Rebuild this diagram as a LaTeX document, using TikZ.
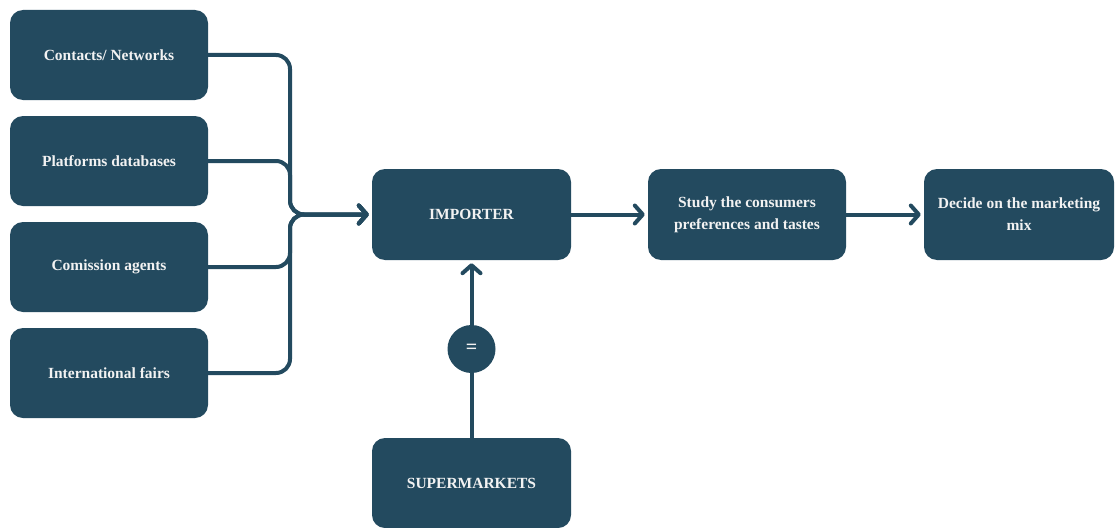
\documentclass[tikz,border=0pt]{standalone}
\usepackage{fontspec}
\setmainfont{Liberation Serif}
\usetikzlibrary{arrows.meta}
\definecolor{navy}{HTML}{234A5F}
\definecolor{paper}{HTML}{F2F2F2}
\begin{document}
\begin{tikzpicture}[x=1pt,y=-1pt,
  box/.style={fill=navy, rounded corners=13pt, minimum width=198pt, minimum height=90pt,
    text=paper, font=\bfseries\fontsize{15.5}{22}\selectfont, align=center, inner sep=0pt},
  conn/.style={draw=navy, line width=4pt, line cap=round, line join=round},
  tip/.style={-{Straight Barb[length=8pt,width=18pt,line cap=round,line join=round]}}
]
\useasboundingbox (0,0) rectangle (1115,527);
% sources on the left
\node[box] (c1) at (109,55)  {Contacts/ Networks};
\node[box] (c2) at (109,161) {Platforms databases};
\node[box] (c3) at (109,267) {Comission agents};
\node[box] (c4) at (109,373) {International fairs};
% main chain
\node[box, minimum width=199pt, minimum height=91pt] (imp) at (471.5,214.5) {IMPORTER};
\node[box, minimum width=198pt, minimum height=91pt] (stu) at (747,214.5) {Study the consumers\\preferences and tastes};
\node[box, minimum width=190pt, minimum height=91pt] (dec) at (1019,214.5) {Decide on the marketing\\mix};
\node[box, minimum width=199pt, minimum height=90pt] (sup) at (471.5,483) {SUPERMARKETS};
% merging connectors
\coordinate (J) at (290,214.5);
\foreach \s in {c1,c2,c3,c4}
  \draw[conn, tip, rounded corners=14pt] (\s.east) -| (J) -- ([xshift=-3pt]imp.west);
% chain arrows
\draw[conn, tip] (imp.east) -- ([xshift=-3pt]stu.west);
\draw[conn, tip] (stu.east) -- ([xshift=-3pt]dec.west);
\draw[conn, tip] (sup.north) -- ([yshift=-3pt]imp.south);
\node[circle, fill=navy, minimum size=48pt, inner sep=0pt, text=paper,
  font=\bfseries\fontsize{20}{20}\selectfont] (eq) at (471.5,349) {=};
\end{tikzpicture}
\end{document}
